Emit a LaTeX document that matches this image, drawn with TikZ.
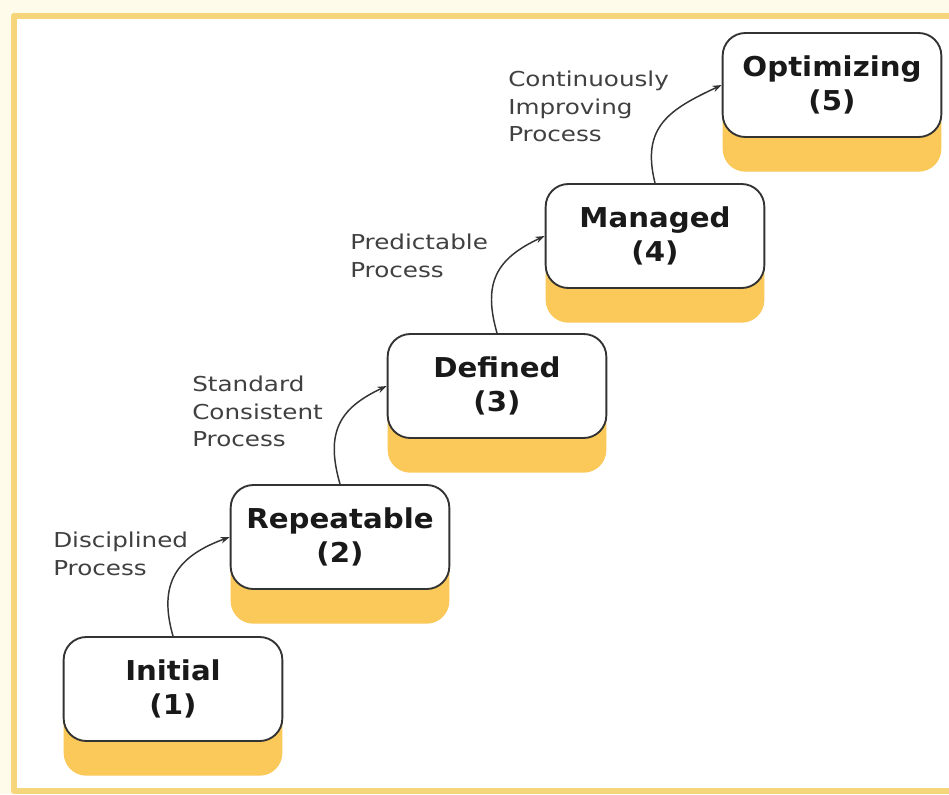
\documentclass[tikz,border=0pt]{standalone}
\usepackage{fontspec}
\setmainfont{DejaVu Sans}
\newfontfamily\lblfont{DejaVu Sans}[FakeStretch=1.2]
\newfontfamily\boxfont{DejaVu Sans}[FakeStretch=1.07]
\usetikzlibrary{shadows,arrows.meta}
\definecolor{frameyellow}{RGB}{245,214,122}
\definecolor{creamback}{RGB}{255,251,234}
\definecolor{shadeorange}{RGB}{250,201,90}
\definecolor{labelgray}{RGB}{64,64,64}
\begin{document}
\begin{tikzpicture}[x=0.75pt, y=0.75pt, line join=round, line cap=round, >={Stealth[length=7pt,width=5pt]},
		level/.style={draw=black!80, line width=1.4pt, fill=white, rounded corners=17pt,
			minimum width=164pt, minimum height=78pt, align=center, inner sep=0pt, text=black!90,
			font=\boxfont\bfseries\fontsize{20.5}{26}\selectfont,
			drop shadow={shadow xshift=0pt, shadow yshift=-26pt, fill=shadeorange, opacity=1}},
		note/.style={anchor=north west, inner sep=0pt, align=left, text=labelgray,
			font=\lblfont\fontsize{15.4}{20.4}\selectfont},
		climb/.style={->, line width=1.1pt, draw=black!80, looseness=1.25}
		]
		\useasboundingbox[fill=creamback] (0,0) rectangle (949,-794);
		\draw[frameyellow, line width=4.5pt, fill=white] (14,-16) rectangle (960,-791);
		% the five levels
		\node[level] (init) at (173,-689) {Initial\\(1)};
		\node[level] (rep) at (340,-537) {Repeatable\\(2)};
		\node[level] (def) at (497,-386) {Defined\\(3)};
		\node[level] (man) at (655,-236) {Managed\\(4)};
		\node[level] (opt) at (832,-85) {Optimizing\\(5)};
		% process notes
		\node[note] (disc) at (53,-532) {Disciplined\\Process};
		\node[note] (stand) at (192,-376) {Standard\\Consistent\\Process};
		\node[note] (pred) at (350,-234) {Predictable\\Process};
		\node[note] (cont) at (508,-71) {Continuously\\Improving\\Process};
		% steps
		\draw[climb] (init.north) to[out=106,in=200] (rep.west);
		\draw[climb] (rep.north) to[out=106,in=205] (def.west);
		\draw[climb] (def.north) to[out=106,in=205] (man.west);
		\draw[climb] (man.north) to[out=104,in=205] (opt.west);
\end{tikzpicture}
\end{document}
